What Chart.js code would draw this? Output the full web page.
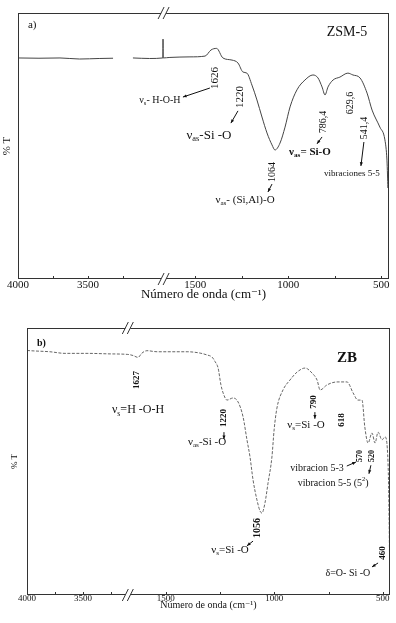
<!DOCTYPE html>
<html>
<head>
<meta charset="utf-8">
<script src="https://cdn.jsdelivr.net/npm/chart.js@4"></script>
<style>
  html, body { margin: 0; padding: 0; background: #fff; }
  #a { position: absolute; left: 0; top: 0; width: 396px; height: 310px; }
  #b { position: absolute; left: 0; top: 310px; width: 396px; height: 313px; }
</style>
</head>
<body>
<div id="a"><canvas id="chartA"></canvas></div>
<div id="b"><canvas id="chartB"></canvas></div>
<script>
// a) ZSM-5 : wavenumber (cm-1) and % T
const wnA = [4000, 3850, 3700, 3560, 3420, 3321, 3250, 3179, 3060, 2965, 2964, 2963,
  1636, 1528, 1447, 1415, 1385, 1351, 1302, 1270, 1243, 1222, 1195, 1168, 1141, 1114,
  1087, 1071, 1044, 1017, 990, 953, 910, 867, 840, 818, 802, 786, 759, 722, 679, 652,
  614, 576, 549, 507, 480, 469, 466, 464];
const tA = [83.1, 83.0, 83.1, 82.7, 82.9, 83.0, null, 83.1, 82.9, 83.1, 90.2, 83.1,
  83.3, 83.5, 83.8, 86.1, 86.7, 83.1, 82.3, 81.2, 77.8, 77.4, 72.9, 67.3, 60.9, 54.9,
  50.4, 48.5, 51.1, 57.1, 64.7, 71.1, 74.8, 76.7, 75.6, 72.2, 69.2, 72.2, 74.8, 75.9, 77.4, 76.7,
  75.6, 69.9, 63.5, 57.1, 52.3, 44.7, 39.1, 34.2];

// b) ZB
const wnB = [4000, 3973, 3795, 3661, 3464, 3259, 3100,
  1651, 1628, 1610, 1587, 1540, 1402, 1342, 1310, 1287, 1273, 1259, 1246, 1236, 1218,
  1190, 1167, 1144, 1126, 1112, 1098, 1080, 1066, 1057, 1043, 1029, 1011, 1001, 988,
  960, 928, 895, 858, 826, 803, 789, 757, 711, 665, 637, 615, 596, 583, 568, 550, 536,
  522, 504, 490, 476, 471, 469];
const tB = [91.6, 91.5, 91.1, 90.5, 90.5, 90.3, 90.1,
  89.7, 89.0, 90.6, 91.5, 91.1, 91.1, 90.6, 89.9, 89.1, 87.4, 85.0, 78.7, 75.7, 73.0,
  73.8, 72.3, 66.7, 58.1, 51.7, 43.1, 35.6, 31.5, 30.7, 34.5, 41.9, 51.7, 61.8, 70.0,
  76.8, 80.5, 83.5, 85.0, 83.1, 80.5, 76.8, 78.7, 79.8, 79.8, 75.7, 73.0, 73.0, 62.9, 56.9, 60.7, 56.9,
  61.0, 58.1, 59.2, 49.4, 28.1, 13.1];

const tickWn = [4000, 3750, 3500, 3250, 1500, 1250, 1000, 750, 500];
const tickText = { 4000: '4000', 3500: '3500', 1500: '1500', 1000: '1000', 500: '500' };

// broken x axis: high part 4000..cutHi, then cutLo..lo, each with its own stretch
function makeBreak(hi, cutHi, cutLo, lo, kHi, kLo) {
  const w1 = (hi - cutHi) * kHi;
  return {
    toPos: wn => wn >= cutHi ? (hi - wn) * kHi : w1 + (cutLo - wn) * kLo,
    cut: w1,
    max: w1 + (cutLo - lo) * kLo
  };
}
const axA = makeBreak(4000, 2960, 1670, 458, 0.14, 0.186);
const axB = makeBreak(4000, 3100, 1675, 467, 0.112, 0.217);

// labels placed at (wavenumber, %T)
const notesA = [
  { wn: 3929, t: 95.5, parts: [['a)', 0]], size: 11, align: 'left' },
  { wn: 684, t: 92.9, parts: [['ZSM-5', 0]], size: 14 },
  { wn: 1394, t: 75.6, parts: [['1626', 0]], size: 11, rot: true },
  { wn: 2986, t: 67.3, parts: [['ν', 0], ['s', 1], ['- H-O-H', 0]], size: 10 },
  { wn: 1261, t: 68.4, parts: [['1220', 0]], size: 11, rot: true },
  { wn: 1426, t: 54.1, parts: [['ν', 0], ['as', 1], ['-Si -O', 0]], size: 13 },
  { wn: 813, t: 59.0, parts: [['786,4', 0]], size: 10, rot: true },
  { wn: 883, t: 47.7, parts: [['ν', 0], ['as', 1], ['= Si-O', 0]], size: 11, bold: true },
  { wn: 668, t: 66.2, parts: [['629,6', 0]], size: 10, rot: true },
  { wn: 593, t: 56.8, parts: [['541,4', 0]], size: 10, rot: true },
  { wn: 657, t: 39.5, parts: [['vibraciones 5-5', 0]], size: 9 },
  { wn: 1087, t: 40.2, parts: [['1064', 0]], size: 10, rot: true },
  { wn: 1232, t: 29.7, parts: [['ν', 0], ['as', 1], ['- (Si,Al)-O', 0]], size: 11 }
];
const arrowsA = [
  [[1421, 71.8], [1566, 68.4]],
  [[1270, 63.2], [1308, 58.6]],
  [[818, 53.4], [845, 50.8]],
  [[593, 51.5], [609, 42.5]],
  [[1087, 35.7], [1109, 32.7]]
];

const notesB = [
  { wn: 3911, t: 94.4, parts: [['b)', 0]], size: 10, bold: true, align: 'left' },
  { wn: 665, t: 88.8, parts: [['ZB', 0]], size: 15, bold: true },
  { wn: 1633, t: 80.5, parts: [['1627', 0]], size: 9, bold: true, rot: true },
  { wn: 1628, t: 69.3, parts: [['ν', 0], ['s', 1], ['=H -O-H', 0]], size: 12 },
  { wn: 1232, t: 66.3, parts: [['1220', 0]], size: 9, bold: true, rot: true },
  { wn: 1310, t: 57.3, parts: [['ν', 0], ['as', 1], ['-Si -O', 0]], size: 11 },
  { wn: 817, t: 72.3, parts: [['790', 0]], size: 9, bold: true, rot: true },
  { wn: 854, t: 63.7, parts: [['ν', 0], ['s', 1], ['=Si -O', 0]], size: 11 },
  { wn: 688, t: 65.5, parts: [['618', 0]], size: 9, bold: true, rot: true },
  { wn: 604, t: 52.1, parts: [['570', 0]], size: 8, bold: true, rot: true },
  { wn: 550, t: 52.1, parts: [['520', 0]], size: 8, bold: true, rot: true },
  { wn: 803, t: 47.6, parts: [['vibracion 5-3', 0]], size: 10 },
  { wn: 729, t: 41.9, parts: [['vibracion 5-5 (5', 0], ['2', 2], [')', 0]], size: 10 },
  { wn: 1079, t: 25.1, parts: [['1056', 0]], size: 10, bold: true, rot: true },
  { wn: 1204, t: 16.9, parts: [['ν', 0], ['s', 1], ['=Si -O', 0]], size: 11 },
  { wn: 499, t: 15.7, parts: [['460', 0]], size: 9, bold: true, rot: true },
  { wn: 661, t: 8.2, parts: [['δ=O- Si -O', 0]], size: 10 }
];
const arrowsB = [
  [[1232, 61.0], [1232, 58.4]],
  [[813, 68.5], [813, 66.0]],
  [[666, 48.3], [624, 49.8]],
  [[555, 48.6], [564, 45.4]],
  [[1098, 20.2], [1126, 18.4]],
  [[522, 12.0], [550, 10.5]]
];

const FONT = '"Liberation Serif", "DejaVu Serif", serif';
Chart.defaults.font.family = FONT;
Chart.defaults.color = '#111';

function drawParts(ctx, parts, cx, cy, size, bold, align) {
  const fontFor = k => (bold ? 'bold ' : '') + (k ? size * 0.65 : size) + 'px ' + FONT;
  let total = 0;
  parts.forEach(([s, k]) => { ctx.font = fontFor(k); total += ctx.measureText(s).width; });
  let xx = align === 'left' ? cx : cx - total / 2;
  ctx.textAlign = 'left';
  ctx.textBaseline = 'middle';
  parts.forEach(([s, k]) => {
    ctx.font = fontFor(k);
    const dy = k === 1 ? size * 0.3 : k === 2 ? -size * 0.35 : 0;
    ctx.fillText(s, xx, cy + dy);
    xx += ctx.measureText(s).width;
  });
}

function panelPlugin(ax, notes, arrows) {
  return {
    id: 'panelDecor',
    afterDraw(chart) {
      const { ctx, chartArea: ca, scales: { x, y } } = chart;
      const px = wn => x.getPixelForValue(ax.toPos(wn));
      const py = t => y.getPixelForValue(t);
      const line = (x1, y1, x2, y2) => { ctx.beginPath(); ctx.moveTo(x1, y1); ctx.lineTo(x2, y2); ctx.stroke(); };
      ctx.save();
      ctx.strokeStyle = '#333';
      ctx.lineWidth = 1;
      ctx.strokeRect(Math.round(ca.left) + 0.5, Math.round(ca.top) + 0.5,
        Math.round(ca.width) - 1, Math.round(ca.height) - 1);
      // inward tick marks
      tickWn.forEach(w => {
        const xx = Math.round(px(w)) + 0.5;
        line(xx, ca.bottom, xx, ca.bottom - 3);
      });
      // axis break marks
      const bx = x.getPixelForValue(ax.cut);
      [ca.top, ca.bottom].forEach(yy => {
        ctx.fillStyle = '#fff';
        ctx.fillRect(bx - 2.5, yy - 1.5, 5, 3);
        [-2.5, 2.5].forEach(d => line(bx + d - 3, yy + 6, bx + d + 3, yy - 6));
      });
      // arrows
      ctx.fillStyle = '#111';
      ctx.strokeStyle = '#111';
      arrows.forEach(([a, b]) => {
        const x1 = px(a[0]), y1 = py(a[1]), x2 = px(b[0]), y2 = py(b[1]);
        line(x1, y1, x2, y2);
        const ang = Math.atan2(y2 - y1, x2 - x1);
        ctx.beginPath();
        ctx.moveTo(x2, y2);
        ctx.lineTo(x2 - 4 * Math.cos(ang - 0.4), y2 - 4 * Math.sin(ang - 0.4));
        ctx.lineTo(x2 - 4 * Math.cos(ang + 0.4), y2 - 4 * Math.sin(ang + 0.4));
        ctx.closePath();
        ctx.fill();
      });
      // labels
      notes.forEach(n => {
        const cx = px(n.wn), cy = py(n.t);
        if (n.rot) {
          ctx.save();
          ctx.translate(cx, cy);
          ctx.rotate(-Math.PI / 2);
          drawParts(ctx, n.parts, 0, 0, n.size, n.bold, 'center');
          ctx.restore();
        } else {
          drawParts(ctx, n.parts, cx, cy, n.size, n.bold, n.align);
        }
      });
      ctx.restore();
    }
  };
}

function makeChart(id, ax, wn, t, style, notes, arrows, sizes) {
  return new Chart(document.getElementById(id), {
    type: 'line',
    data: {
      datasets: [{
        data: wn.map((w, i) => ({ x: ax.toPos(w), y: t[i] })),
        borderColor: style.color,
        borderWidth: 1,
        borderDash: style.dash,
        pointRadius: 0,
        cubicInterpolationMode: 'monotone',
        spanGaps: false
      }]
    },
    options: {
      responsive: true,
      maintainAspectRatio: false,
      animation: false,
      devicePixelRatio: 1,
      layout: { padding: sizes.padding },
      plugins: { legend: { display: false }, tooltip: { enabled: false } },
      scales: {
        x: {
          type: 'linear',
          min: 0,
          max: ax.max,
          grid: { display: false, drawTicks: false },
          border: { display: false },
          afterBuildTicks: scale => {
            scale.ticks = tickWn.map(w => ({ value: ax.toPos(w), wn: w }));
          },
          ticks: {
            autoSkip: false,
            maxRotation: 0,
            padding: sizes.tickPad,
            color: '#111',
            font: { size: sizes.tickSize },
            callback: (v, i, ticks) => tickText[ticks[i].wn] || ''
          },
          title: {
            display: true,
            text: 'Número de onda (cm⁻¹)',
            color: '#111',
            font: { size: sizes.titleSize },
            padding: sizes.titlePad
          }
        },
        y: {
          min: 0,
          max: 100,
          grid: { display: false, drawTicks: false },
          border: { display: false },
          ticks: { display: false },
          title: {
            display: true,
            text: '% T',
            color: '#111',
            font: { size: sizes.ySize },
            padding: sizes.yPad
          }
        }
      }
    },
    plugins: [panelPlugin(ax, notes, arrows)]
  });
}

makeChart('chartA', axA, wnA, tA, { color: '#444', dash: [] }, notesA, arrowsA, {
  padding: { left: 0.4, top: 13, right: 7, bottom: 7.2 },
  tickSize: 11, tickPad: 0, titleSize: 13, titlePad: { top: -5, bottom: 0 },
  ySize: 11, yPad: { top: 0, bottom: 4.4 }
});

makeChart('chartB', axB, wnB, tB, { color: '#666', dash: [3, 1.5] }, notesB, arrowsB, {
  padding: { left: 9.6, top: 18, right: 6, bottom: 12 },
  tickSize: 9, tickPad: -2, titleSize: 10, titlePad: { top: -2.8, bottom: 0 },
  ySize: 9, yPad: { top: 0, bottom: 6.6 }
});
</script>
</body>
</html>
